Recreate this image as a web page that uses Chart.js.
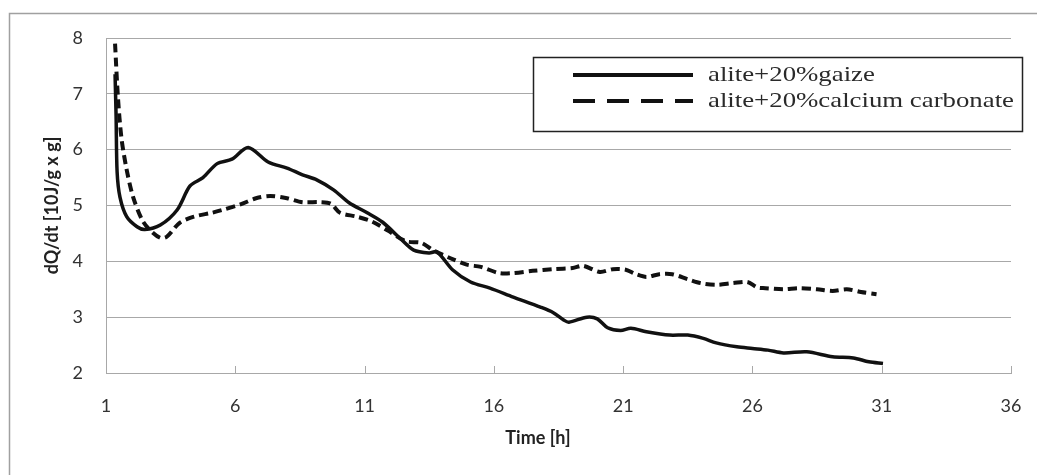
<!DOCTYPE html>
<html>
<head>
<meta charset="utf-8">
<script src="https://cdn.jsdelivr.net/npm/chart.js@4/dist/chart.umd.min.js"></script>
<style>
  html, body { margin: 0; padding: 0; background: #fff; }
  canvas { display: block; }
</style>
</head>
<body>
<canvas id="chart" width="1037" height="475"></canvas>
<script>
// values
const gaizeTime = [1.35, 1.39, 1.43, 1.54, 1.8, 2.2, 2.5, 3.1, 3.75, 4.25, 4.75, 5.3, 5.87, 6.5, 7.27, 8.0, 8.6, 9.15, 9.8, 10.4, 11.1, 11.7, 12.4, 12.9, 13.5, 13.8, 14.4, 15.1, 15.85, 16.75, 17.8, 18.3, 18.7, 18.9, 19.6, 20.0, 20.4, 20.9, 21.3, 21.9, 22.8, 23.5, 24.1, 24.6, 25.4, 26.0, 26.6, 27.2, 28.1, 29.1, 29.9, 30.5, 31.05];
const gaizeRate = [7.35, 6.6, 5.6, 5.15, 4.8, 4.62, 4.57, 4.65, 4.92, 5.35, 5.5, 5.75, 5.83, 6.04, 5.78, 5.67, 5.55, 5.46, 5.28, 5.05, 4.87, 4.7, 4.4, 4.2, 4.15, 4.17, 3.85, 3.63, 3.52, 3.36, 3.18, 3.08, 2.95, 2.91, 3.0, 2.97, 2.81, 2.76, 2.8, 2.74, 2.68, 2.68, 2.62, 2.54, 2.47, 2.44, 2.41, 2.36, 2.38, 2.29, 2.27, 2.2, 2.17];

const carbTime = [1.35, 1.46, 1.6, 1.8, 2.05, 2.4, 2.7, 3.1, 3.35, 3.85, 4.4, 5.1, 5.5, 6.2, 6.8, 7.35, 8.0, 8.6, 9.3, 9.7, 10.05, 10.7, 11.3, 11.9, 12.6, 13.2, 13.65, 14.3, 14.95, 15.5, 16.2, 16.75, 17.5, 18.3, 19.05, 19.45, 20.1, 20.6, 21.1, 21.5, 21.9, 22.4, 22.9, 23.5, 24.0, 24.6, 25.25, 25.8, 26.2, 26.5, 27.2, 27.8, 28.5, 29.1, 29.65, 30.2, 30.8];
const carbRate = [7.9, 6.95, 6.2, 5.64, 5.15, 4.74, 4.56, 4.42, 4.44, 4.69, 4.8, 4.87, 4.92, 5.02, 5.13, 5.17, 5.13, 5.06, 5.06, 5.03, 4.87, 4.8, 4.71, 4.55, 4.36, 4.33, 4.2, 4.06, 3.94, 3.9, 3.79, 3.79, 3.83, 3.86, 3.88, 3.92, 3.81, 3.86, 3.85, 3.77, 3.72, 3.77, 3.77, 3.68, 3.61, 3.58, 3.61, 3.63, 3.53, 3.52, 3.5, 3.52, 3.5, 3.47, 3.5, 3.45, 3.41];

const seriesNames = ["alite+20%gaize", "alite+20%calcium carbonate"];
const xTicks = [1, 6, 11, 16, 21, 26, 31, 36];
const yTicks = [2, 3, 4, 5, 6, 7, 8];
const xTitle = "Time [h]";
const yTitle = "dQ/dt [10J/g x g]";

const toPoints = (xs, ys) => xs.map((x, i) => ({ x: x, y: ys[i] }));

const GRID = "#a8a8a8";

// outer frame, inward x ticks, x title and boxed legend like the original figure
const decorations = {
  id: "decorations",
  beforeDraw(chart) {
    const ctx = chart.ctx;
    ctx.save();
    ctx.fillStyle = "#fff";
    ctx.fillRect(0, 0, chart.width, chart.height);
    ctx.strokeStyle = "#a0a0a0";
    ctx.lineWidth = 1.5;
    ctx.beginPath();
    ctx.moveTo(9.5, chart.height + 2);
    ctx.lineTo(9.5, 13.5);
    ctx.lineTo(chart.width + 2, 13.5);
    ctx.stroke();

    ctx.fillStyle = "#222";
    ctx.font = "bold 18px Lato";
    ctx.textAlign = "center";
    ctx.textBaseline = "middle";
    ctx.fillText(xTitle, 538, 438);
    ctx.restore();
  },
  afterDatasetsDraw(chart) {
    const ctx = chart.ctx;
    const xs = chart.scales.x;
    const bottom = chart.chartArea.bottom;
    ctx.save();
    ctx.strokeStyle = GRID;
    ctx.lineWidth = 1;
    ctx.beginPath();
    xTicks.forEach(t => {
      const px = Math.round(xs.getPixelForValue(t)) + 0.5;
      ctx.moveTo(px, bottom);
      ctx.lineTo(px, bottom - 7);
    });
    ctx.stroke();

    // legend box
    const bx = 533.5, by = 57.5, bw = 489, bh = 74;
    ctx.fillStyle = "#fff";
    ctx.fillRect(bx, by, bw, bh);
    ctx.strokeStyle = "#222";
    ctx.lineWidth = 1.5;
    ctx.strokeRect(bx, by, bw, bh);

    ctx.font = "22px 'Liberation Serif', 'DejaVu Serif', serif";
    const longest = ctx.measureText(seriesNames[1]).width;
    const stretch = 306 / longest;
    const rows = [75, 101];
    chart.data.datasets.forEach((ds, i) => {
      ctx.strokeStyle = "#111";
      ctx.lineWidth = 4;
      ctx.setLineDash(i === 0 ? [] : [22, 12]);
      ctx.beginPath();
      ctx.moveTo(573, rows[i]);
      ctx.lineTo(693, rows[i]);
      ctx.stroke();
      ctx.setLineDash([]);
      ctx.save();
      ctx.translate(708, rows[i]);
      ctx.scale(stretch, 1);
      ctx.fillStyle = "#2a2a2a";
      ctx.textBaseline = "middle";
      ctx.textAlign = "left";
      ctx.fillText(ds.label, 0, 0);
      ctx.restore();
    });
    ctx.restore();
  }
};

new Chart(document.getElementById("chart"), {
  type: "line",
  data: {
    datasets: [
      {
        label: seriesNames[0],
        data: toPoints(gaizeTime, gaizeRate),
        borderColor: "#111",
        borderWidth: 3.5,
        pointRadius: 0,
        tension: 0.3,
        fill: false
      },
      {
        label: seriesNames[1],
        data: toPoints(carbTime, carbRate),
        borderColor: "#111",
        borderWidth: 4,
        borderDash: [9, 5],
        pointRadius: 0,
        tension: 0.3,
        fill: false
      }
    ]
  },
  options: {
    responsive: false,
    devicePixelRatio: 1,
    animation: false,
    layout: { padding: { left: 0, top: 38, right: 26, bottom: 0 } },
    plugins: {
      legend: { display: false },
      tooltip: { enabled: false }
    },
    scales: {
      x: {
        type: "linear",
        min: 1,
        max: 36,
        afterBuildTicks: (scale) => { scale.ticks = xTicks.map(v => ({ value: v })); },
        afterFit: (scale) => {
          scale.height = 102;
          scale.paddingLeft = 0;
          scale.paddingRight = 10;
        },
        grid: { drawOnChartArea: false, drawTicks: false },
        border: { display: true, color: GRID, width: 1 },
        ticks: {
          padding: 22,
          color: "#333",
          font: { family: "Lato", size: 18 }
        }
      },
      y: {
        min: 2,
        max: 8,
        afterBuildTicks: (scale) => { scale.ticks = yTicks.map(v => ({ value: v })); },
        afterFit: (scale) => { scale.width = 106; },
        grid: { color: GRID, lineWidth: 1, drawTicks: false },
        border: { display: true, color: GRID, width: 1 },
        ticks: {
          padding: 23,
          color: "#333",
          font: { family: "Lato", size: 18 }
        },
        title: {
          display: true,
          text: yTitle,
          color: "#222",
          font: { family: "Lato", size: 18, weight: "bold" },
          padding: { top: 41, bottom: 4 }
        }
      }
    }
  },
  plugins: [decorations]
});
</script>
</body>
</html>
